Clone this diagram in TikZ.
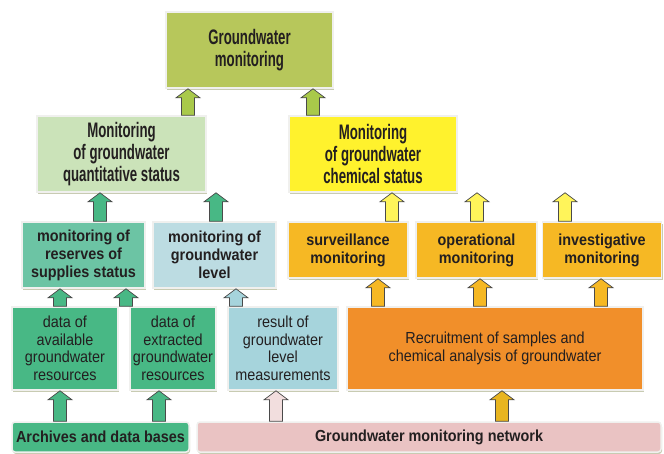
\documentclass[tikz,border=0pt]{standalone}
\usepackage{fontspec}
\setmainfont[FakeStretch=0.9]{Liberation Sans}
\newfontfamily\headfont[FakeStretch=0.63]{Liberation Sans}
\usetikzlibrary{%
  calc,%
  shadows% drop shadow under boxes
}

\definecolor{txt}{HTML}{231F20}
\definecolor{boxrim}{HTML}{F0F0EE}
\definecolor{boxshade}{HTML}{C8CBB2}
\definecolor{arrowrim}{HTML}{4A4A4A}
\definecolor{cTop}{HTML}{B7C75B}
\definecolor{cTopArr}{HTML}{A9C94A}
\definecolor{cQuant}{HTML}{CBE3B9}
\definecolor{cChem}{HTML}{FFF22D}
\definecolor{cChemArr}{HTML}{FFF45A}
\definecolor{cReserve}{HTML}{6CC4A4}
\definecolor{cLevel}{HTML}{BCDCE2}
\definecolor{cGreen}{HTML}{48B885}
\definecolor{cResult}{HTML}{A6D4DC}
\definecolor{cOrange}{HTML}{F6B824}
\definecolor{cRecruit}{HTML}{F18F2A}
\definecolor{cNetwork}{HTML}{EAC3C3}
\definecolor{cPinkArr}{HTML}{F2DEDE}
\definecolor{cGoldArr}{HTML}{E8B520}

\tikzset{
  box/.style={draw=boxrim, line width=1.5pt, align=center, inner sep=0pt,
    text=txt,
    drop shadow={shadow xshift=1pt, shadow yshift=-2pt, fill=boxshade, opacity=1}},
  toplvl/.style={box, font=\headfont\bfseries\fontsize{21}{22}\selectfont},
  midlvl/.style={box, font=\bfseries\fontsize{16}{18}\selectfont},
  datalvl/.style={box, font=\fontsize{16}{17.5}\selectfont},
  baselvl/.style={box, rounded corners=3pt, font=\bfseries\fontsize{16}{18}\selectfont},
  blockarrow/.style={draw=arrowrim, line width=0.7pt, line join=miter},
}

% block arrow: fill, x, lower node, upper node
\newcommand{\upflow}[4]{%
  \path[blockarrow, fill=#1] let \p1=(#3.north), \p2=(#4.south) in
    ({#2pt-6.5pt},\y1) -- ({#2pt-6.5pt},{\y2-9pt}) -- ({#2pt-12pt},{\y2-9pt})
    -- ({#2pt},\y2) -- ({#2pt+12pt},{\y2-9pt}) -- ({#2pt+6.5pt},{\y2-9pt})
    -- ({#2pt+6.5pt},\y1) -- cycle;
}

\begin{document}
\begin{tikzpicture}[
  x={(1pt,0)},
  y={(0,-1pt)},
]
\useasboundingbox (0,0) rectangle (664,453);

% top
\node[toplvl, fill=cTop, minimum width=167pt, minimum height=76pt] (gwmon) at (249.5,50) {Groundwater\\monitoring};

\node[toplvl, fill=cQuant, minimum width=169pt, minimum height=76pt] (quant) at (121.5,154) {Monitoring\\of groundwater\\quantitative status};
\node[toplvl, fill=cChem, minimum width=168pt, minimum height=76pt] (chem) at (373,154) {Monitoring\\of groundwater\\chemical status};

% monitoring types
\node[midlvl, fill=cReserve, minimum width=123pt, minimum height=66pt] (reserve) at (83.5,255) {monitoring of\\reserves of\\supplies status};
\node[midlvl, fill=cLevel, minimum width=123pt, minimum height=66pt] (level) at (214.5,255) {monitoring of\\groundwater\\level};
\node[midlvl, fill=cOrange, minimum width=120pt, minimum height=56pt] (surv) at (348,250) {surveillance\\monitoring};
\node[midlvl, fill=cOrange, minimum width=121pt, minimum height=56pt] (oper) at (476.5,250) {operational\\monitoring};
\node[midlvl, fill=cOrange, minimum width=119pt, minimum height=56pt] (invest) at (602,250) {investigative\\monitoring};

% data
\node[datalvl, fill=cGreen, minimum width=106pt, minimum height=83pt] (avail) at (65,348.5) {data of\\available\\groundwater\\resources};
\node[datalvl, fill=cGreen, minimum width=86pt, minimum height=83pt] (extract) at (173,348.5) {data of\\extracted\\groundwater\\resources};
\node[datalvl, fill=cResult, minimum width=110pt, minimum height=83pt] (result) at (283,348.5) {result of\\groundwater\\level\\measurements};
\node[datalvl, fill=cRecruit, minimum width=296pt, minimum height=83pt] (recruit) at (495,348.5) {Recruitment of samples and\\chemical analysis of groundwater};

% sources
\node[baselvl, fill=cGreen, minimum width=177pt, minimum height=30pt] (archive) at (100.5,437) {Archives and data bases};
\node[baselvl, fill=cNetwork, minimum width=464pt, minimum height=30pt] (network) at (429,437) {Groundwater monitoring network};

% arrows
\upflow{cTopArr}{188}{quant}{gwmon}
\upflow{cTopArr}{313}{chem}{gwmon}
\upflow{cGreen}{100}{reserve}{quant}
\upflow{cGreen}{216}{level}{quant}
\upflow{cChemArr}{392}{surv}{chem}
\upflow{cChemArr}{477}{oper}{chem}
\upflow{cChemArr}{565}{invest}{chem}
\upflow{cGreen}{60}{avail}{reserve}
\upflow{cGreen}{126}{extract}{reserve}
\upflow{cResult}{236}{result}{level}
\upflow{cOrange}{378}{recruit}{surv}
\upflow{cOrange}{480}{recruit}{oper}
\upflow{cOrange}{601}{recruit}{invest}
\upflow{cGreen}{60}{archive}{avail}
\upflow{cGreen}{159}{archive}{extract}
\upflow{cPinkArr}{276}{network}{result}
\upflow{cGoldArr}{502}{network}{recruit}

\end{tikzpicture}
\end{document}
